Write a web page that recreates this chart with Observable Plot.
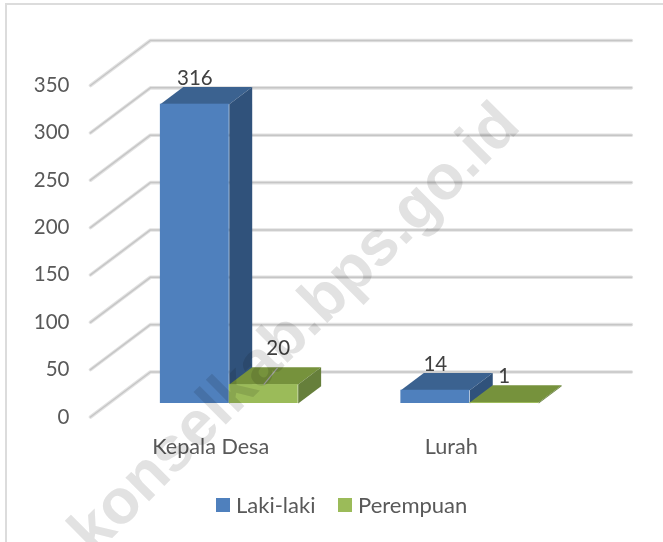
<!DOCTYPE html>
<html><head><meta charset="utf-8">
<script src="https://cdn.jsdelivr.net/npm/d3@7"></script>
<script src="https://cdn.jsdelivr.net/npm/@observablehq/plot@0.6"></script>
<style>
html,body{margin:0;padding:0;background:#fff}
#page{position:relative;width:663px;height:542px;overflow:hidden;font-family:Lato,sans-serif}
#frame{position:absolute;left:5px;top:3px;width:700px;height:600px;border:2px solid #dcdcdc;pointer-events:none}
#chart{position:absolute;left:0;top:0}
#legend{position:absolute;left:0;top:491px;width:663px;height:28px;font-size:22px;color:#595959}
#legend span{position:absolute;top:0;line-height:28px;white-space:nowrap}
#legend i{position:absolute;top:7px;width:14px;height:14px}
</style></head>
<body><div id="page"><div id="chart"></div><div id="frame"></div><div id="legend"></div></div>
<script>
const categories = ["Kepala Desa", "Lurah"];
const seriesNames = ["Laki-laki", "Perempuan"];
const lakiLaki = [316, 14];
const perempuan = [20, 1];
const ticks = [0, 50, 100, 150, 200, 250, 300, 350];
const watermark = "konselkab.bps.go.id";

const palette = {
  "Laki-laki": {front: "#4f80bd", top: "#3b6290", side: "#30527b"},
  "Perempuan": {front: "#9bbb59", top: "#76923c", side: "#667f3b"}
};
const DX = 0.249, DY = 47.5;            // oblique projection of the floor depth
const d0 = 0.3, d1 = 0.683;             // bar depth span
const barW = 0.2865, groupStart = 0.2158;

const bars = [];
categories.forEach((c, i) => {
  [lakiLaki, perempuan].forEach((vals, s) => {
    const x0 = i + groupStart + s * barW;
    bars.push({id: c + s, cat: c, series: seriesNames[s], value: vals[i], x0, x1: x0 + barW});
  });
});
const P = (x, v, d) => ({x: x + d * DX, y: v + d * DY});
const quad = (b, pts, face) => pts.map(([x, v, d]) => ({...P(x, v, d), id: b.id, fill: palette[b.series][face]}));
const topFaces = bars.flatMap(b => quad(b, [[b.x0, b.value, d0], [b.x1, b.value, d0], [b.x1, b.value, d1], [b.x0, b.value, d1]], "top"));
const sideFaces = bars.flatMap(b => quad(b, [[b.x1, 0, d0], [b.x1, b.value, d0], [b.x1, b.value, d1], [b.x1, 0, d1]], "side"));
const barMarks = bars.flatMap(b => {
  const f = [b];
  return [
    Plot.line(topFaces.filter(p => p.id === b.id), {x: "x", y: "y", fill: "fill", stroke: "none", curve: "linear"}),
    Plot.line(sideFaces.filter(p => p.id === b.id), {x: "x", y: "y", fill: "fill", stroke: "none", curve: "linear"}),
    Plot.rect(f, {x1: d => P(d.x0, 0, d0).x, x2: d => P(d.x1, 0, d0).x, y1: d => P(0, 0, d0).y, y2: d => P(0, d.value, d0).y, fill: palette[b.series].front})
  ];
});
const grid = ticks.flatMap(t => [
  {...P(0, t, 0), t}, {...P(0, t, 1), t}, {...P(2, t, 1), t}
]);
const labelOf = b => ({x: P((b.x0 + b.x1) / 2, 0, d0).x, y: P(0, b.value, d0).y, value: b.value});
const normalLabels = bars.filter(b => b.value !== 20).map(labelOf);
const liftedLabels = bars.filter(b => b.value === 20).map(labelOf);
const leader = liftedLabels.map(d => ({x1: d.x, y1: d.y, x2: d.x + 0.058, y2: d.y + 18}));

const plot = Plot.plot({
  width: 663, height: 542,
  marginLeft: 90, marginRight: 31, marginTop: 40, marginBottom: 125.5,
  style: {fontFamily: "Lato, sans-serif", overflow: "visible", background: "transparent"},
  x: {domain: [0, 2.2535], axis: null},
  y: {domain: [0, 350 + DY], axis: null},
  color: {type: "identity"},
  marks: [
    Plot.line(grid, {x: "x", y: "y", z: "t", stroke: "#e2e2e2", strokeWidth: 3.6, curve: "linear"}),
    Plot.line(grid, {x: "x", y: "y", z: "t", stroke: "#c6c6c6", strokeWidth: 1.5, curve: "linear"}),
    Plot.axisY(ticks, {x: 0, anchor: "left", tickSize: 0, tickPadding: 21, fontSize: 20.5, color: "#595959", fill: "#595959", label: null}),
    ...barMarks,
    Plot.link(leader, {x1: "x1", y1: "y1", x2: "x2", y2: "y2", stroke: "#a6a6a6", strokeWidth: 1.2}),
    Plot.text(normalLabels, {x: "x", y: "y", text: "value", dy: -26, fontSize: 20.5, fill: "#404040"}),
    Plot.text(liftedLabels, {x: "x", y: "y", text: "value", dy: -36, dx: 14.5, fontSize: 20.5, fill: "#404040"}),
    Plot.text(categories, {x: (d, i) => i + 0.5, y: () => 0, text: d => d, dy: 30.5, fontSize: 21.6, fill: "#595959"}),
    Plot.text([watermark], {x: () => 0.845, y: () => 94, text: d => d, rotate: -45, fontSize: 63, fontWeight: "bold", fontFamily: "Liberation Sans", fill: "#e2e2e2", mixBlendMode: "multiply"})
  ]
});
document.getElementById("chart").append(plot);
const legend = document.getElementById("legend");
[[216, 236, "Laki-laki", palette["Laki-laki"].front], [338, 358, "Perempuan", palette["Perempuan"].front]].forEach(([a, b, name, col]) => {
  const i = document.createElement("i"); i.style.left = a + "px"; i.style.background = col; legend.append(i);
  const s = document.createElement("span"); s.style.left = b + "px"; s.textContent = name; legend.append(s);
});
</script></body></html>
